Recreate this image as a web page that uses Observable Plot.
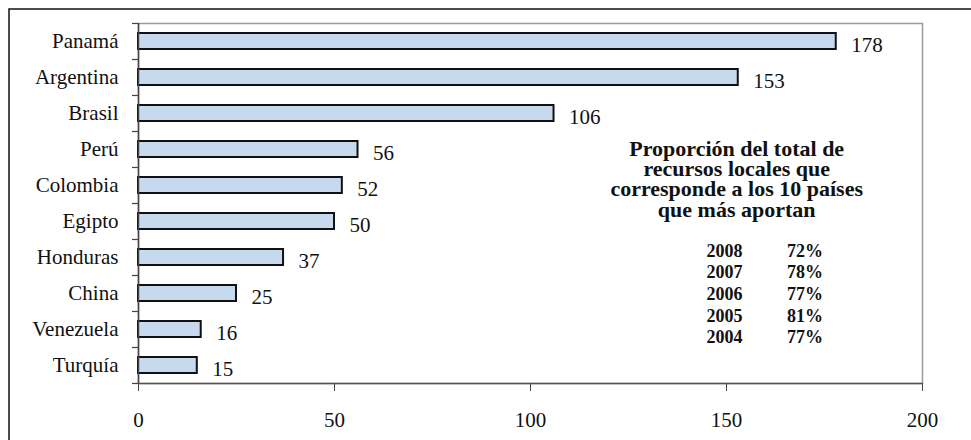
<!DOCTYPE html>
<html>
<head>
<meta charset="utf-8">
<script src="https://cdn.jsdelivr.net/npm/d3@7"></script>
<script src="https://cdn.jsdelivr.net/npm/@observablehq/plot@0.6"></script>
<style>
  html, body { margin: 0; padding: 0; background: #fff; }
  svg { display: block; }
</style>
</head>
<body>
<div id="chart"></div>
<script>
const countries = ["Panamá", "Argentina", "Brasil", "Perú", "Colombia", "Egipto", "Honduras", "China", "Venezuela", "Turquía"];
const values = [178, 153, 106, 56, 52, 50, 37, 25, 16, 15];
const xTicks = [0, 50, 100, 150, 200];
const noteTitle = ["Proporción del total de", "recursos locales que", "corresponde a los 10 países", "que más aportan"];
const years = ["2008", "2007", "2006", "2005", "2004"];
const shares = ["72%", "78%", "77%", "81%", "77%"];

const data = countries.map((c, i) => ({country: c, value: values[i]}));

const W = 971, H = 440;
const mT = 23, mB = 57, mL = 138, mR = 49;
const step = (H - mT - mB) / countries.length;
const serif = "Liberation Serif";

const chart = Plot.plot({
  width: W,
  height: H,
  marginTop: mT,
  marginBottom: mB,
  marginLeft: mL,
  marginRight: mR,
  style: {fontFamily: serif, background: "#fff", color: "#111"},
  x: {domain: [0, 200], ticks: xTicks},
  y: {domain: countries, paddingInner: 0.55, paddingOuter: 0.275},
  marks: [
    // outer page border
    Plot.frame({stroke: "#111", strokeWidth: 1.5, insetLeft: -129.5, insetTop: -14.5, insetRight: -100, insetBottom: -100}),
    // plot area box
    Plot.frame({stroke: "#9a9a9a", strokeWidth: 1.5}),
    Plot.barX(data, {x: "value", y: "country", fill: "#c6d9ee", stroke: "#111", strokeWidth: 2}),
    Plot.text(data, {x: "value", y: "country", text: d => String(d.value), textAnchor: "start", dx: 15, dy: 4, fontSize: 21, fontFamily: serif, fill: "#111"}),
    // y axis line
    Plot.ruleX([0], {stroke: "#444", strokeWidth: 1.5}),
    // x axis line
    Plot.ruleY([0], {y: () => countries[countries.length - 1], dy: step / 2, stroke: "#555", strokeWidth: 1.5}),
    // y band-boundary ticks
    Plot.ruleY(countries, {y: d => d, x1: 0, x2: 0, insetLeft: -6, dy: -step / 2, stroke: "#444", strokeWidth: 1.2}),
    Plot.ruleY([countries[countries.length - 1]], {y: d => d, x1: 0, x2: 0, insetLeft: -6, dy: step / 2, stroke: "#444", strokeWidth: 1.2}),
    Plot.axisY({tickSize: 0, tickPadding: 20, fontSize: 21, fontFamily: serif, label: null, fill: "#111"}),
    Plot.axisX({ticks: xTicks, tickSize: 8, tickPadding: 21, fontSize: 21, fontFamily: serif, label: null, stroke: "#444", fill: "#111"}),
    // annotation
    Plot.text([noteTitle.join("\n")], {x: 152.6, frameAnchor: "top", lineAnchor: "top", dy: 118, fontSize: 22, fontFamily: serif, fontWeight: "bold", lineHeight: 0.92, textAnchor: "middle", fill: "#111"}),
    Plot.text([years.join("\n")], {x: 149.5, frameAnchor: "top", lineAnchor: "top", dy: 218, fontSize: 18, fontFamily: serif, fontWeight: "bold", lineHeight: 1.2, textAnchor: "middle", fill: "#111"}),
    Plot.text([shares.join("\n")], {x: 170, frameAnchor: "top", lineAnchor: "top", dy: 218, fontSize: 18, fontFamily: serif, fontWeight: "bold", lineHeight: 1.2, textAnchor: "middle", fill: "#111"})
  ]
});
document.getElementById("chart").appendChild(chart);
</script>
</body>
</html>
